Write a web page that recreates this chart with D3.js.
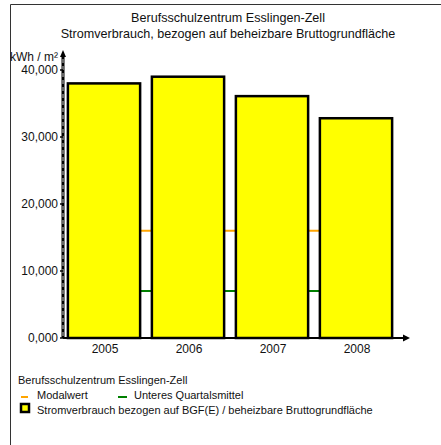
<!DOCTYPE html>
<html>
<head>
<meta charset="utf-8">
<script src="https://cdn.jsdelivr.net/npm/d3@7"></script>
<style>
  body { margin: 0; background: #fff; }
  svg { display: block; font-family: "Liberation Sans", Arial, sans-serif; }
</style>
</head>
<body>
<svg id="chart" width="441" height="445"></svg>
<script>
// data
const years = ["2005", "2006", "2007", "2008"];
const verbrauch = [38000, 39000, 36100, 32800]; // kWh / m²
const modalwert = [16000, 16000, 16000, 16000];
const unteresQuartal = [7000, 7000, 7000, 7000];
const yTicks = [0, 10000, 20000, 30000, 40000];

const title = "Berufsschulzentrum Esslingen-Zell";
const subtitle = "Stromverbrauch, bezogen auf beheizbare Bruttogrundfläche";
const legendTitle = "Berufsschulzentrum Esslingen-Zell";
const legendModal = "Modalwert";
const legendQuartal = "Unteres Quartalsmittel";
const legendBar = "Stromverbrauch bezogen auf BGF(E) / beheizbare Bruttogrundfläche";

const svg = d3.select("#chart");

// frame (only top + left edge visible)
svg.append("path")
  .attr("d", "M10.5,445V4.5H441")
  .attr("fill", "none")
  .attr("stroke", "#333")
  .attr("stroke-width", 1);

svg.append("text")
  .attr("x", 228).attr("y", 22)
  .attr("text-anchor", "middle")
  .attr("font-size", "12.6px")
  .attr("fill", "#111")
  .text(title);
svg.append("text")
  .attr("x", 228).attr("y", 38)
  .attr("text-anchor", "middle")
  .attr("font-size", "12.6px")
  .attr("fill", "#111")
  .text(subtitle);

const x = d3.scaleBand()
  .domain(years)
  .range([62, 398])
  .paddingInner(0.14)
  .paddingOuter(0.07);

const y = d3.scaleLinear()
  .domain([0, 40000])
  .range([338, 70]);

const x0 = 63, yBase = y(0);

// reference lines behind bars (connect band centres)
function refLine(vals, color) {
  const pts = vals.map((v, i) => [x(years[i]) + x.bandwidth() / 2, y(v)]);
  svg.append("path")
    .attr("d", d3.line()(pts))
    .attr("fill", "none")
    .attr("stroke", color)
    .attr("stroke-width", 2);
}
refLine(modalwert, "#ffa500");
refLine(unteresQuartal, "#008000");

// bars
svg.append("g")
  .selectAll("rect")
  .data(verbrauch)
  .join("rect")
  .attr("x", (d, i) => x(years[i]))
  .attr("y", d => y(d))
  .attr("width", x.bandwidth())
  .attr("height", d => yBase - y(d))
  .attr("fill", "#ffff00")
  .attr("stroke", "#000")
  .attr("stroke-width", 2.5);

// y axis
svg.append("line")
  .attr("x1", x0).attr("x2", x0)
  .attr("y1", yBase).attr("y2", 55)
  .attr("stroke", "#000").attr("stroke-width", 3);
svg.append("line")
  .attr("x1", x0).attr("x2", x0)
  .attr("y1", yBase - 2).attr("y2", 58)
  .attr("stroke", "#fff").attr("stroke-width", 0.8)
  .attr("stroke-dasharray", "4,3");
svg.append("path")
  .attr("d", `M${x0 - 3},57L${x0},50L${x0 + 3},57Z`)
  .attr("fill", "#000");

const fmt = d => d3.format(",")(d).padStart(6, "0").replace(/^0+(?=\d,)/, "") ;
const yLabel = d => d === 0 ? "0,000" : d3.format(",")(d);

svg.append("g")
  .selectAll("g")
  .data(yTicks)
  .join("g")
  .each(function (d) {
    const g = d3.select(this);
    g.append("line")
      .attr("x1", x0 - 3).attr("x2", x0)
      .attr("y1", y(d)).attr("y2", y(d))
      .attr("stroke", "#000").attr("stroke-width", 1.5);
    g.append("text")
      .attr("x", 58).attr("y", y(d) + 4)
      .attr("text-anchor", "end")
      .attr("font-size", "12px")
      .attr("fill", "#111")
      .text(yLabel(d));
  });

svg.append("text")
  .attr("x", 58).attr("y", 61)
  .attr("text-anchor", "end")
  .attr("font-size", "12px")
  .attr("fill", "#111")
  .text("kWh / m²");

// x axis
svg.append("line")
  .attr("x1", x0).attr("x2", 404)
  .attr("y1", yBase).attr("y2", yBase)
  .attr("stroke", "#000").attr("stroke-width", 2);
svg.append("path")
  .attr("d", `M403,${yBase - 3.5}L410,${yBase}L403,${yBase + 3.5}Z`)
  .attr("fill", "#000");

svg.append("g")
  .selectAll("text")
  .data(years)
  .join("text")
  .attr("x", d => x(d) + x.bandwidth() / 2 + 1)
  .attr("y", yBase + 15)
  .attr("text-anchor", "middle")
  .attr("font-size", "12px")
  .attr("fill", "#111")
  .text(d => d);

// legend
const leg = svg.append("g").attr("font-size", "11px").attr("fill", "#111");
leg.append("text").attr("x", 18).attr("y", 384).text(legendTitle);

leg.append("line")
  .attr("x1", 21).attr("x2", 28).attr("y1", 397).attr("y2", 397)
  .attr("stroke", "#ffa500").attr("stroke-width", 2);
leg.append("text").attr("x", 37).attr("y", 398.5).text(legendModal);

leg.append("line")
  .attr("x1", 118).attr("x2", 127).attr("y1", 397).attr("y2", 397)
  .attr("stroke", "#008000").attr("stroke-width", 2);
leg.append("text").attr("x", 134).attr("y", 398.5).text(legendQuartal);

leg.append("rect")
  .attr("x", 21).attr("y", 404).attr("width", 8).attr("height", 8)
  .attr("fill", "#ffff00").attr("stroke", "#000").attr("stroke-width", 2.5);
leg.append("text").attr("x", 37).attr("y", 414).text(legendBar);
</script>
</body>
</html>
